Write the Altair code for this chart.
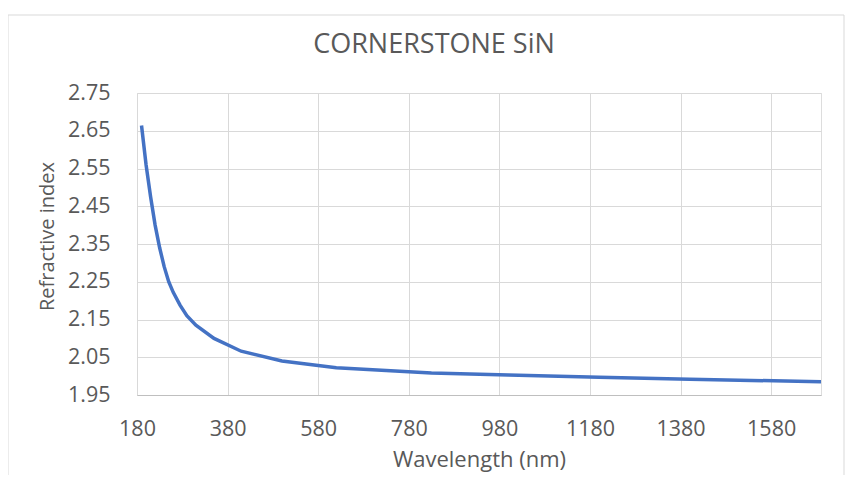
import altair as alt
import pandas as pd

wavelength_nm = [190, 200, 210, 220, 230, 240, 250, 260, 275, 290, 310, 350, 410, 500, 620, 830, 1000, 1200, 1400, 1690]
refractive_index = [2.664, 2.56, 2.475, 2.40, 2.34, 2.29, 2.25, 2.222, 2.188, 2.16, 2.135, 2.100, 2.066, 2.040, 2.022, 2.008, 2.003, 1.997, 1.992, 1.985]

x_ticks = [180, 380, 580, 780, 980, 1180, 1380, 1580]
y_ticks = [1.95, 2.05, 2.15, 2.25, 2.35, 2.45, 2.55, 2.65, 2.75]

df = pd.DataFrame({"wl": wavelength_nm, "n": refractive_index})

FONT = "Open Sans"
TXT = "#595959"
GRID = "#d9d9d9"

line = alt.Chart(df).mark_line(color="#4472c4", strokeWidth=3.5, clip=True).encode(
    x=alt.X("wl:Q", scale=alt.Scale(domain=[180, 1690], nice=False, zero=False),
            axis=alt.Axis(values=x_ticks, format="d", title="Wavelength (nm)", grid=True, gridColor=GRID,
                          ticks=False, domain=True, domainColor="#bfbfbf", domainWidth=1,
                          labelFont=FONT, labelFontSize=21.5, labelColor=TXT, labelPadding=23,
                          labelFlush=False,
                          titleFont=FONT, titleFontSize=22, titleColor=TXT, titleFontWeight="normal",
                          titleBaseline="alphabetic", titleY=71)),
    y=alt.Y("n:Q", scale=alt.Scale(domain=[1.95, 2.75], nice=False, zero=False),
            axis=alt.Axis(values=y_ticks, format=".2f", title="Refractive index", grid=True,
                          gridColor=GRID, ticks=False, domain=False,
                          labelFont=FONT, labelFontSize=21.5, labelColor=TXT, labelPadding=27,
                          titleFont=FONT, titleFontSize=20, titleColor=TXT, titleFontWeight="normal",
                          titleBaseline="alphabetic", titleX=-84, titleY=143, titleAngle=-90,
                          titleAlign="center")),
)

border = alt.Chart(pd.DataFrame({"b": [0]})).mark_rect(
    fill=None, stroke=GRID, strokeWidth=1, clip=False
).encode(
    x=alt.value(-129), x2=alt.value(707), y=alt.value(-78), y2=alt.value(420)
)

chart = alt.layer(border, line).properties(
    width=684, height=302,
    title=alt.TitleParams("CORNERSTONE SiN", font=FONT, fontSize=27, color=TXT,
                          fontWeight="normal", anchor="middle", dx=-45, offset=-65,
                          baseline="alphabetic"),
    autosize=alt.AutoSizeParams(type="none"),
    padding={"left": 129, "top": 85, "right": 24, "bottom": 80},
).configure_view(stroke=None).configure(background="white")

chart.save("out.html", embed_options={"renderer": "svg", "actions": False})
